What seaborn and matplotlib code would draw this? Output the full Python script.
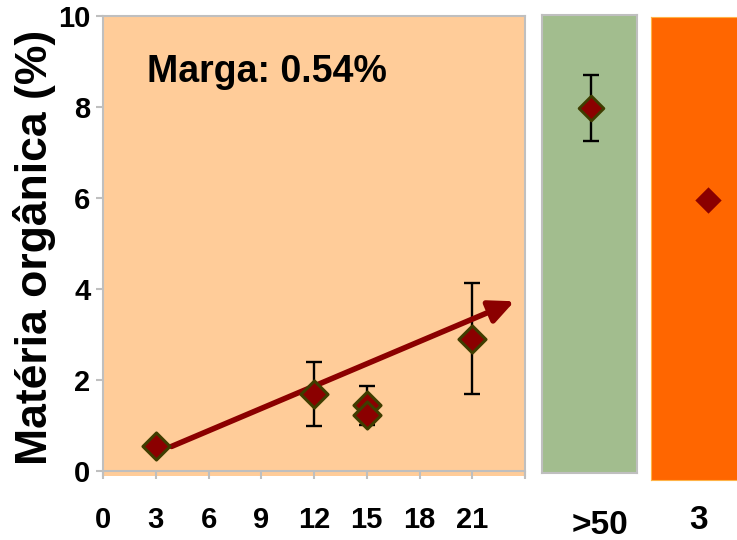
import matplotlib
matplotlib.use("Agg")
import matplotlib.pyplot as plt
import matplotlib.transforms as mtransforms
import seaborn as sns
import pandas as pd

# Organic matter (%) along the marl chronosequence
days = [3, 12, 15, 15, 21]
organic_matter = [0.56, 1.69, 1.44, 1.22, 2.91]
om_error = [0.0, 0.71, 0.42, 0.0, 1.22]

# Reference stands
forest_label = ">50"
forest_om = [7.98]
forest_err = [0.73]
pasture_label = "3"
pasture_om = [5.95]

# Trend arrow endpoints (days, %)
trend_start = (3.9, 0.54)
trend_end = (23.4, 3.73)

marga_text = "Marga: 0.54%"
x_ticks = [0, 3, 6, 9, 12, 15, 18, 21, 24]
x_tick_labels = ["0", "3", "6", "9", "12", "15", "18", "21", ""]
y_ticks = [0, 2, 4, 6, 8, 10]

sns.set_theme(style="white")
plt.rcParams["font.family"] = ["Liberation Sans", "DejaVu Sans"]
plt.rcParams["font.weight"] = "bold"
plt.rcParams["text.color"] = "black"
plt.rcParams["axes.labelcolor"] = "black"
plt.rcParams["xtick.labelcolor"] = "black"
plt.rcParams["ytick.labelcolor"] = "black"

W, H = 737, 540
fig = plt.figure(figsize=(W / 100, H / 100), dpi=100)

def frac(left, right, top, bottom):
    return [left / W, 1 - bottom / H, (right - left) / W, (bottom - top) / H]

grey = "#BFBFBF"
mark_fill = "#8B0000"
mark_edge = "#3F3D00"
tick_size = 21
side_size = 24

# ---------- main panel ----------
ax = fig.add_axes(frac(103, 525, 16, 476))
ax.set_facecolor("#FFCC99")
df = pd.DataFrame({"days": days, "om": organic_matter, "err": om_error})
has_err = df[df["err"] > 0]
ax.errorbar(has_err["days"], has_err["om"], yerr=has_err["err"], fmt="none",
            ecolor="black", elinewidth=1.7, capsize=6, capthick=1.7, zorder=2)
ax.annotate("", xy=trend_end, xytext=trend_start,
            arrowprops=dict(arrowstyle="-|>,head_length=1.5,head_width=0.7",
                            lw=4.0, color=mark_fill, shrinkA=0, shrinkB=0,
                            mutation_scale=10),
            zorder=3)
sns.scatterplot(data=df, x="days", y="om", marker="D", s=190, color=mark_fill,
                edgecolor=mark_edge, linewidth=2.2, zorder=4, ax=ax, legend=False)
ax.set_xlim(0, 24)
ax.set_ylim(-0.11, 10)
ax.set_xticks(x_ticks)
ax.set_xticklabels(x_tick_labels)
ax.set_yticks(y_ticks)
ax.spines["bottom"].set_position(("data", 0))
for s in ax.spines.values():
    s.set_color(grey)
    s.set_linewidth(1.5)
ax.tick_params(axis="x", direction="out", length=6, width=1.5, color=grey,
               pad=19, labelsize=tick_size)
ax.tick_params(axis="y", direction="out", length=5, width=1.5, color=grey,
               pad=4, labelsize=tick_size)
ax.tick_params(bottom=True, left=True)
for lab in ax.get_xticklabels() + ax.get_yticklabels():
    lab.set_fontweight("bold")
ax.set_xlabel("")
ax.set_ylabel("Matéria orgânica (%)", fontsize=32, fontweight="bold")
ax.yaxis.set_label_coords(-0.112, 0.496)
ax.text(0.104, 0.878, marga_text, transform=ax.transAxes, fontsize=27,
        fontweight="bold", ha="left", va="center")

# ---------- forest panel ----------
ax2 = fig.add_axes(frac(542, 637, 15, 473))
ax2.set_facecolor("#A2BD8E")
ax2.errorbar([0], forest_om, yerr=forest_err, fmt="none", ecolor="black",
             elinewidth=1.7, capsize=6, capthick=1.7, zorder=2)
sns.scatterplot(x=[0], y=forest_om, marker="D", s=160, color=mark_fill,
                edgecolor=mark_edge, linewidth=2.0, zorder=4, ax=ax2, legend=False)
ax2.set_xlim(-0.516, 0.484)
ax2.set_ylim(-0.044, 10.02)
ax2.set_yticks([])
ax2.set_xticks([0])
ax2.set_xticklabels([forest_label])
ax2.tick_params(axis="x", length=0, pad=27, labelsize=side_size)
for s in ax2.spines.values():
    s.set_color(grey)
    s.set_linewidth(1.5)

# ---------- pasture panel ----------
ax3 = fig.add_axes(frac(651, 770, 17, 480))
ax3.set_facecolor("#FF6600")
sns.scatterplot(x=[0], y=pasture_om, marker="D", s=180, color=mark_fill,
                edgecolor=mark_fill, linewidth=0, zorder=4, ax=ax3, legend=False)
ax3.set_xlim(-0.477, 0.523)
ax3.set_ylim(-0.198, 9.978)
ax3.set_yticks([])
ax3.set_xticks([0])
ax3.set_xticklabels([pasture_label])
ax3.tick_params(axis="x", length=0, pad=18, labelsize=side_size)
for s in ax3.spines.values():
    s.set_color("#FFB347")
    s.set_linewidth(0.8)

for a, dx in ((ax2, 9), (ax3, -9)):
    for lab in a.get_xticklabels():
        lab.set_fontweight("bold")
        lab.set_transform(lab.get_transform() +
                          mtransforms.ScaledTranslation(dx / 100, 0, fig.dpi_scale_trans))

fig.savefig("out.png", dpi=100)
